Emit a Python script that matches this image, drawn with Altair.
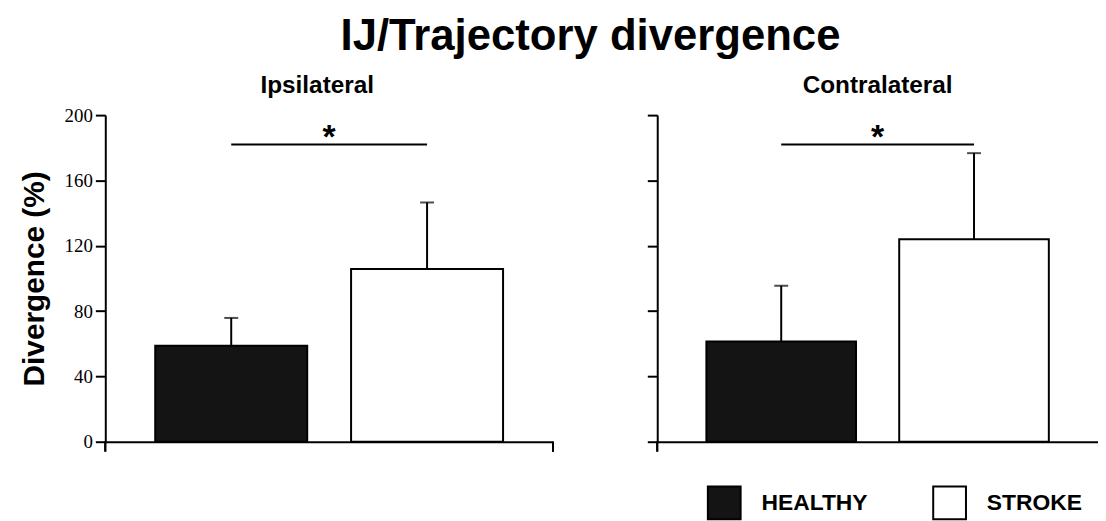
import altair as alt
import pandas as pd

groups = ["HEALTHY", "STROKE"]
ipsi_mean = [58.8, 105.8]
ipsi_err = [17.0, 40.7]
contra_mean = [61.3, 124.0]
contra_err = [34.2, 52.7]
sig_level = [182, 182]
y_ticks = [0, 40, 80, 120, 160, 200]
fills = ["#141414", "#ffffff"]

PAD_IN = 0.224
PAD_OUT = 0.255


def panel(title, means, errs, sig, width, show_labels, show_legend, right_end_tick,
          title_offset, title_dx):
    df = pd.DataFrame({"group": groups, "mean": means, "err": errs})
    df["top"] = df["mean"] + df["err"]
    sig_df = pd.DataFrame({"a": [groups[0]], "b": [groups[1]], "y": [sig]})

    step = width / (len(groups) - PAD_IN + 2 * PAD_OUT)
    half_gap = step * PAD_IN / 2

    xs = alt.Scale(domain=groups, paddingInner=PAD_IN, paddingOuter=PAD_OUT)
    ys = alt.Scale(domain=[0, 200], nice=False)
    yaxis = alt.Axis(
        values=y_ticks,
        tickSize=10,
        tickWidth=2,
        tickColor="black",
        domainColor="black",
        domainWidth=2,
        labels=show_labels,
        labelFont="Liberation Serif",
        labelFontSize=19,
        labelColor="black",
        labelPadding=3,
        grid=False,
        title="Divergence (%)" if show_labels else None,
        titleFont="Liberation Sans",
        titleFontSize=30,
        titleFontWeight="bold",
        titleColor="black",
        titlePadding=15,
    )
    xaxis = alt.Axis(
        labels=False, ticks=False, title=None, domainColor="black", domainWidth=2, grid=False
    )

    base = alt.Chart(df)
    color_kwargs = {}
    if show_legend:
        color_kwargs["legend"] = alt.Legend(
            orient="none",
            legendX=50,
            legendY=373,
            direction="horizontal",
            symbolType="square",
            symbolSize=1089,
            symbolStrokeColor="black",
            symbolStrokeWidth=2,
            labelFont="Liberation Sans",
            labelFontSize=23,
            labelFontWeight="bold",
            labelColor="black",
            labelOffset=20,
            columnPadding=62,
        )
    else:
        color_kwargs["legend"] = None
    bars = base.mark_bar(stroke="black", strokeWidth=2).encode(
        x=alt.X("group:N", scale=xs, axis=xaxis, sort=groups),
        y=alt.Y("mean:Q", scale=ys, axis=yaxis),
        color=alt.Color("group:N", scale=alt.Scale(domain=groups, range=fills), title=None, **color_kwargs),
    )
    err = base.mark_rule(color="black", strokeWidth=2).encode(
        x=alt.X("group:N", sort=groups), y="mean:Q", y2="top:Q"
    )
    caps = base.mark_tick(color="black", size=14, thickness=2, orient="horizontal").encode(
        x=alt.X("group:N", sort=groups), y="top:Q"
    )
    sig_rule = alt.Chart(sig_df).mark_rule(color="black", strokeWidth=2).encode(
        x=alt.X("a:N", bandPosition=0.5),
        x2=alt.X2("b:N", bandPosition=0.5),
        y="y:Q",
    )
    star = alt.Chart(sig_df).mark_text(
        text="*", font="Liberation Sans", fontSize=34, fontWeight="bold",
        baseline="alphabetic", dy=4, dx=half_gap, color="black",
    ).encode(x=alt.X("a:N", bandPosition=1), y="y:Q")

    ext = alt.Chart(df).mark_rule(color="black", strokeWidth=2).encode(
        x=alt.value(0), y=alt.value(329), y2=alt.value(339)
    )
    layers = [bars, err, caps, sig_rule, star, ext]
    if right_end_tick:
        layers.append(
            alt.Chart(df).mark_rule(color="black", strokeWidth=2).encode(
                x=alt.value(width), y=alt.value(329), y2=alt.value(339)
            )
        )
    return alt.layer(*layers).properties(
        width=width,
        height=329,
        title=alt.TitleParams(
            title, font="Liberation Sans", fontSize=24.5, fontWeight="bold",
            color="black", anchor="middle", offset=title_offset, dx=title_dx,
        ),
    )


left = panel("Ipsilateral", ipsi_mean, ipsi_err, sig_level[0], 451, True, False, True, 8, -12)
right = panel("Contralateral", contra_mean, contra_err, sig_level[1], 444, False, True, False, 16, 0)

chart = (
    alt.hconcat(left, right, spacing=93)
    .resolve_legend(color="independent")
    .properties(
        title=alt.TitleParams(
            "IJ/Trajectory divergence", font="Liberation Sans", fontSize=44,
            fontWeight="bold", color="black", anchor="middle", offset=14, dx=32,
        ),
        padding={"left": 11, "top": 5, "right": 0, "bottom": 0},
    )
    .configure_view(stroke=None)
)

chart.save("out.html", embed_options={"renderer": "svg", "actions": False})
